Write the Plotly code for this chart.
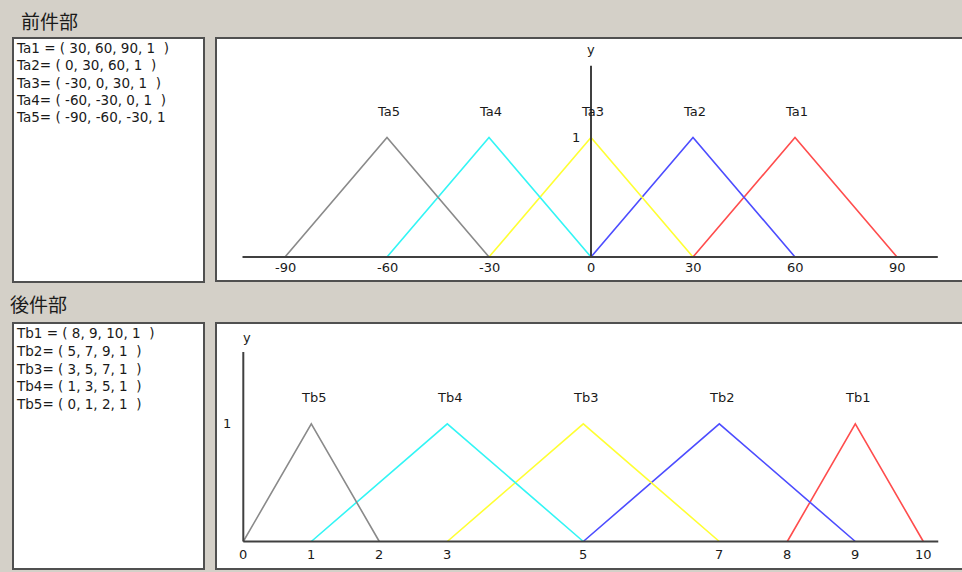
import plotly.graph_objects as go

# ---------------- data ----------------
ta_names = ["Ta1", "Ta2", "Ta3", "Ta4", "Ta5"]
ta_left = [30, 0, -30, -60, -90]
ta_peak = [60, 30, 0, -30, -60]
ta_right = [90, 60, 30, 0, -30]
ta_height = [1, 1, 1, 1, 1]

tb_names = ["Tb1", "Tb2", "Tb3", "Tb4", "Tb5"]
tb_left = [8, 5, 3, 1, 0]
tb_peak = [9, 7, 5, 3, 1]
tb_right = [10, 9, 7, 5, 2]
tb_height = [1, 1, 1, 1, 1]

top_ticks = [-90, -60, -30, 0, 30, 60, 90]
bottom_ticks = [0, 1, 2, 3, 5, 7, 8, 9, 10]

ta_text = ["Ta1 = ( 30, 60, 90, 1  )", "Ta2= ( 0, 30, 60, 1  )", "Ta3= ( -30, 0, 30, 1  )",
           "Ta4= ( -60, -30, 0, 1  )", "Ta5= ( -90, -60, -30, 1"]
tb_text = ["Tb1 = ( 8, 9, 10, 1  )", "Tb2= ( 5, 7, 9, 1  )", "Tb3= ( 3, 5, 7, 1  )",
           "Tb4= ( 1, 3, 5, 1  )", "Tb5= ( 0, 1, 2, 1  )"]

header_top = "前件部"
header_bottom = "後件部"

colors = ["#ff4d4d", "#4d4dff", "#ffff33", "#33f5f5", "#8a8a8a"]

# ---------------- layout geometry (pixels) ----------------
W, H = 962, 572
BG = "#d4d0c8"
FONT = "DejaVu Sans"
TXT = "#1a1a1a"


def px(x):
    return x / W


def py(y):
    return 1 - y / H


def axis_range(p0, p1, zero_px, scale):
    return [(p0 - zero_px) / scale, (p1 - zero_px) / scale]


# top chart mapping
T_X0, T_XS = 591.0, 3.4
T_Y0, T_YS = 257.0, 119.5
# bottom chart mapping
B_X0, B_XS = 243.3, 68.0
B_Y0, B_YS = 541.5, 117.7

fig = go.Figure()

for i, n in enumerate(ta_names):
    fig.add_trace(go.Scatter(x=[ta_left[i], ta_peak[i], ta_right[i]], y=[0, ta_height[i], 0],
                             mode="lines", line=dict(color=colors[i], width=1.6),
                             xaxis="x", yaxis="y", name=n, hoverinfo="skip"))
for i, n in enumerate(tb_names):
    fig.add_trace(go.Scatter(x=[tb_left[i], tb_peak[i], tb_right[i]], y=[0, tb_height[i], 0],
                             mode="lines", line=dict(color=colors[i], width=1.6),
                             xaxis="x2", yaxis="y2", name=n, hoverinfo="skip"))

shapes = []
# panels (paper coords)
for (x0, y0, x1, y1) in [(13, 38, 204, 282), (216, 38, 970, 281),
                         (13, 323, 204, 569), (216, 323, 970, 569)]:
    shapes.append(dict(type="rect", xref="paper", yref="paper", layer="below",
                       x0=px(x0), x1=px(x1), y0=py(y0), y1=py(y1),
                       fillcolor="white", line=dict(color="#505050", width=2)))

# axis lines in data coords
shapes += [
    dict(type="line", xref="x", yref="y", x0=-102.5, x1=102, y0=0, y1=0,
         line=dict(color="#404040", width=2)),
    dict(type="line", xref="x", yref="y", x0=0, x1=0, y0=0, y1=1.6,
         line=dict(color="#404040", width=2)),
    dict(type="line", xref="x2", yref="y2", x0=0, x1=10.22, y0=0, y1=0,
         line=dict(color="#404040", width=2)),
    dict(type="line", xref="x2", yref="y2", x0=0, x1=0, y0=0, y1=1.61,
         line=dict(color="#404040", width=2)),
]

ann = []
f_small = dict(family=FONT, size=13, color=TXT)
for t in top_ticks:
    ann.append(dict(x=t, y=0, xref="x", yref="y", text=str(t), showarrow=False,
                    font=f_small, yanchor="middle", yshift=-11))
for t in bottom_ticks:
    ann.append(dict(x=t, y=0, xref="x2", yref="y2", text=str(t), showarrow=False,
                    font=f_small, yanchor="middle", yshift=-13))
for i, n in enumerate(ta_names):
    ann.append(dict(x=ta_peak[i], y=1.22, xref="x", yref="y", text=n, showarrow=False,
                    font=f_small, yanchor="middle", xshift=1))
for i, n in enumerate(tb_names):
    ann.append(dict(x=tb_peak[i], y=1.22, xref="x2", yref="y2", text=n, showarrow=False,
                    font=f_small, yanchor="middle", xshift=2))
ann += [
    dict(x=0, y=1.74, xref="x", yref="y", text="y", showarrow=False, font=f_small, yanchor="middle"),
    dict(x=0, y=1, xref="x", yref="y", text="1", showarrow=False, font=f_small,
         xanchor="right", yanchor="middle", xshift=-9),
    dict(x=0, y=1.73, xref="x2", yref="y2", text="y", showarrow=False, font=f_small,
         yanchor="middle", xshift=4),
    dict(x=0, y=1, xref="x2", yref="y2", text="1", showarrow=False, font=f_small,
         xanchor="right", yanchor="middle", xshift=-10),
]

f_box = dict(family=FONT, size=13.5, color=TXT)
for i, s in enumerate(ta_text):
    ann.append(dict(x=px(14), y=py(48 + i * 17.3), xref="paper", yref="paper", text=s,
                    showarrow=False, font=f_box, xanchor="left", yanchor="middle"))
for i, s in enumerate(tb_text):
    ann.append(dict(x=px(14), y=py(333 + i * 17.8), xref="paper", yref="paper", text=s,
                    showarrow=False, font=f_box, xanchor="left", yanchor="middle"))

f_head = dict(family="Noto Sans CJK JP", size=19, color=TXT)
ann.append(dict(x=px(19), y=py(20), xref="paper", yref="paper", text=header_top,
                showarrow=False, font=f_head, xanchor="left", yanchor="middle"))
ann.append(dict(x=px(8), y=py(303), xref="paper", yref="paper", text=header_bottom,
                showarrow=False, font=f_head, xanchor="left", yanchor="middle"))

hidden = dict(visible=False, showgrid=False, zeroline=False, fixedrange=True)
fig.update_layout(
    width=W, height=H,
    margin=dict(l=0, r=0, t=0, b=0),
    paper_bgcolor=BG, plot_bgcolor="rgba(0,0,0,0)",
    showlegend=False,
    xaxis=dict(domain=[px(217), 1], range=axis_range(217, W, T_X0, T_XS), anchor="y", **hidden),
    yaxis=dict(domain=[py(280), py(39)], range=[(T_Y0 - 280) / T_YS, (T_Y0 - 39) / T_YS],
               anchor="x", **hidden),
    xaxis2=dict(domain=[px(217), 1], range=axis_range(217, W, B_X0, B_XS), anchor="y2", **hidden),
    yaxis2=dict(domain=[py(568), py(324)], range=[(B_Y0 - 568) / B_YS, (B_Y0 - 324) / B_YS],
                anchor="x2", **hidden),
    shapes=shapes,
    annotations=ann,
)

fig.write_html(
    "out.html",
    config={"displayModeBar": False},
    post_script="document.body.style.margin='0';document.body.style.padding='0';"
                "document.documentElement.style.overflow='hidden';",
)
